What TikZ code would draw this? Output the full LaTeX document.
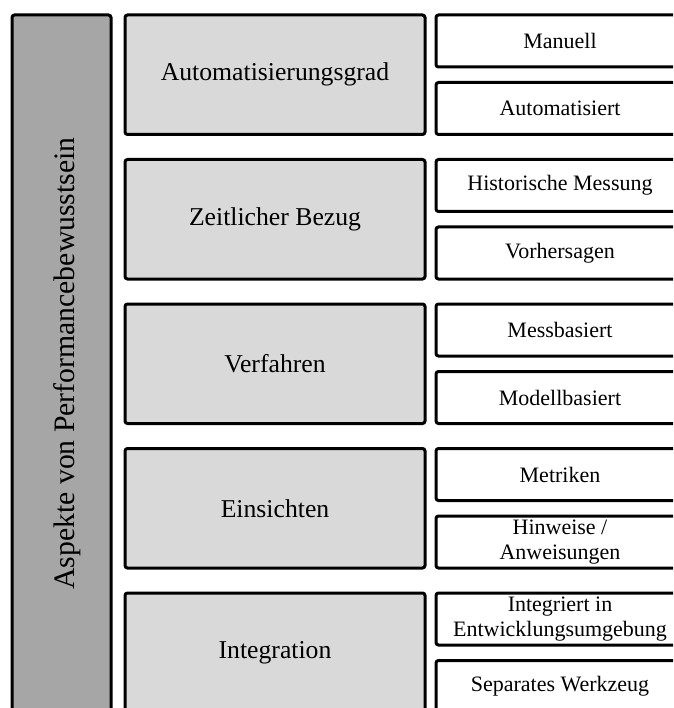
\documentclass[tikz,border=0pt]{standalone}
\usepackage{fontspec}
\setmainfont{Liberation Serif}
\definecolor{aspectfill}{HTML}{A6A6A6}
\definecolor{groupfill}{HTML}{D9D9D9}
\begin{document}
\begin{tikzpicture}[x=1pt,y=-1pt,
  frame/.style={draw=black, line width=3pt, rounded corners=2.5pt,
    inner sep=0pt, outer sep=0pt, anchor=north west},
  aspectbox/.style={frame, fill=aspectfill, anchor=center,
    minimum width=99, minimum height=697},
  aspectlabel/.style={rotate=90, inner sep=0pt,
    font=\fontsize{29.7}{34}\selectfont},
  groupbox/.style={frame, fill=groupfill, minimum width=300, minimum height=119.5,
    font=\fontsize{25.7}{30}\selectfont},
  itembox/.style={frame, fill=white, minimum width=248, minimum height=52,
    align=center, font=\fontsize{22}{25}\selectfont}]
\useasboundingbox (0,0) rectangle (673,708);
\clip (0,0) rectangle (673,708);

% overall aspect, vertical label
\node[aspectbox] (aspekte) at (61.5,363.5) {};
\node[aspectlabel] (aspektetext) at ([xshift=6pt]aspekte.center)
  {Aspekte von Performancebewusstsein};

% groups: top edges at 15 + 144.5 k
\node[groupbox] (g1) at (125,15)    {Automatisierungsgrad};
\node[groupbox] (g2) at (125,159.5) {Zeitlicher Bezug};
\node[groupbox] (g3) at (125,304)   {Verfahren};
\node[groupbox] (g4) at (125,448.5) {Einsichten};
\node[groupbox] (g5) at (125,593)   {Integration};

% items of each group
\node[itembox] (g1a) at (436,15)    {Manuell};
\node[itembox] (g1b) at (436,82.5)  {Automatisiert};
\node[itembox] (g2a) at (436,159.5) {Historische Messung};
\node[itembox] (g2b) at (436,227)   {Vorhersagen};
\node[itembox] (g3a) at (436,304)   {Messbasiert};
\node[itembox] (g3b) at (436,371.5) {Modellbasiert};
\node[itembox] (g4a) at (436,448.5) {Metriken};
\node[itembox] (g4b) at (436,516)   {Hinweise /\\Anweisungen};
\node[itembox] (g5a) at (436,593)   {Integriert in\\Entwicklungsumgebung};
\node[itembox] (g5b) at (436,660.5) {Separates Werkzeug};
\end{tikzpicture}
\end{document}
